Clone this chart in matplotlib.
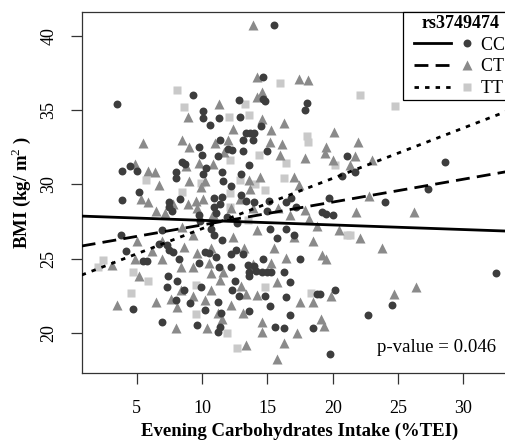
import matplotlib
matplotlib.use("Agg")
import matplotlib.pyplot as plt
from matplotlib.lines import Line2D
from matplotlib.legend_handler import HandlerBase

plt.rcParams['font.family'] = ['Liberation Serif', 'DejaVu Serif']
plt.rcParams['mathtext.fontset'] = 'custom'
plt.rcParams['mathtext.rm'] = 'Liberation Serif'
plt.rcParams['mathtext.bf'] = 'Liberation Serif:bold'

# ---------------- data ----------------
genotypes = ["CC", "CT", "TT"]

cc_x = [15.47, 3.52, 9.34, 14.63, 14.8, 14.7, 18.0, 17.9, 10.1, 10.1, 10.6, 11.3, 12.8, 12.9, 14.5,
        13.4, 13.7, 14.0, 13.1, 13.9, 11.4, 9.8, 10.0, 13.1, 12.3, 12.0, 15.0, 11.2, 8.5, 8.7, 13.6,
        21.1, 21.7, 20.7, 28.6, 10.3, 10.1, 11.5, 8.0, 8.0, 3.9, 4.5, 5.05, 13.0, 11.6, 12.2, 5.2, 3.9,
        8.3, 7.5, 7.5, 7.7, 10.9, 11.5, 11.4, 13.0, 13.4, 14.0, 15.1, 16.4, 16.8, 17.2, 19.7, 24.0,
        27.3, 20.0, 19.2, 19.5, 9.8, 9.85, 10.9, 11.1, 11.9, 12.7, 15.0, 3.8, 6.9, 10.7, 15.2, 15.7,
        16.4, 17.0, 11.5, 10.9, 6.7, 7.3, 7.5, 7.8, 4.2, 5.5, 5.8, 8.2, 9.8, 10.2, 10.5, 11.1, 11.3,
        12.2, 12.6, 13.1, 13.5, 14.0, 14.1, 14.7, 17.5, 12.2, 13.6, 13.6, 14.6, 15.0, 15.3, 16.3, 7.4,
        8.1, 12.5, 16.7, 7.3, 8.6, 9.9, 12.3, 12.8, 14.8, 20.2, 19.0, 18.8, 16.4, 8.0, 9.1, 11.2, 24.5,
        15.2, 10.2, 4.7, 11.45, 13.6, 16.7, 22.7, 6.9, 9.6, 11.2, 11.4, 15.6, 16.3, 18.5, 19.8, 32.5]
cc_y = [40.72, 35.4, 36.0, 37.24, 35.6, 35.75, 35.45, 35.0, 34.9, 34.45, 34.0, 34.45, 35.7, 34.55, 33.9,
        33.45, 33.45, 33.45, 33.0, 33.0, 33.0, 32.5, 32.0, 32.25, 32.3, 32.35, 32.25, 31.9, 31.5, 31.35, 31.3,
        31.9, 30.8, 30.55, 31.5, 31.1, 30.7, 30.85, 30.85, 30.4, 30.9, 31.25, 30.9, 30.7, 30.2, 29.85, 29.45, 28.95,
        29.0, 28.8, 28.5, 28.2, 29.1, 29.15, 28.7, 29.3, 28.9, 28.8, 28.9, 28.8, 29.05, 28.45, 29.05, 28.8,
        29.7, 27.9, 28.1, 28.0, 27.9, 27.55, 28.5, 28.05, 27.8, 27.4, 28.2, 26.6, 26.9, 27.0, 27.0, 26.4,
        27.0, 26.6, 26.25, 26.6, 26.0, 25.9, 25.6, 25.45, 25.5, 24.8, 24.8, 25.0, 24.7, 25.45, 25.4, 25.1, 24.45,
        25.3, 25.6, 25.3, 24.55, 24.5, 24.15, 25.0, 25.0, 24.4, 23.8, 24.1, 24.1, 24.1, 24.1, 24.1, 23.8,
        23.5, 23.5, 23.4, 23.05, 22.85, 23.1, 22.9, 22.45, 22.5, 22.9, 22.6, 22.6, 22.4, 22.2, 22.0, 22.1, 21.9,
        21.8, 21.5, 21.6, 21.3, 21.45, 21.2, 21.2, 20.7, 20.5, 20.05, 20.4, 20.4, 20.3, 20.3, 18.6, 24.0]

ct_x = [13.9, 14.2, 17.4, 18.1, 14.2, 14.6, 11.3, 8.9, 14.6, 16.3, 15.3, 12.4, 20.1, 5.5, 8.5, 9.0, 11.0,
        11.7, 12.0, 15.2, 16.1, 19.5, 21.9, 19.4, 16.0, 21.7, 17.9, 23.0, 20.0, 21.3, 4.9, 8.8, 9.8, 10.8,
        5.9, 6.4, 17.0, 14.4, 13.6, 10.2, 9.0, 9.9, 6.7, 17.4, 13.7, 12.9, 9.5, 10.1, 7.8, 5.9, 5.3, 8.9,
        6.5, 7.2, 9.6, 10.8, 12.2, 13.9, 15.8, 16.7, 17.9, 21.8, 26.2, 22.8, 18.2, 18.8, 20.5, 14.2, 8.5,
        9.3, 12.4, 17.0, 18.5, 22.1, 5.05, 6.9, 8.6, 10.7, 13.2, 15.5, 23.8, 6.2, 4.9, 6.9, 9.6, 19.2, 19.5,
        16.4, 15.3, 3.1, 8.4, 9.3, 10.5, 13.9, 11.6, 10.7, 5.2, 11.4, 15.7, 13.0, 8.4, 10.7, 26.4, 24.7,
        13.4, 14.2, 10.2, 8.1, 6.5, 3.5, 17.5, 18.5, 19.9, 12.2, 13.1, 11.5, 11.25, 19.1, 14.6, 8.0, 10.4,
        14.6, 17.3, 19.3, 13.4, 16.3, 15.7, 9.3, 7.6]
ct_y = [40.7, 37.2, 37.1, 37.0, 35.9, 36.2, 35.4, 34.5, 34.4, 34.15, 33.65, 33.75, 33.5, 32.75, 33.0, 32.5, 32.8,
        32.2, 33.0, 32.85, 32.7, 32.5, 32.85, 32.1, 31.95, 31.9, 31.8, 31.6, 31.6, 31.3, 31.35, 31.25, 31.45, 31.35,
        30.9, 30.85, 30.5, 30.5, 30.3, 30.2, 30.2, 29.8, 29.95, 29.95, 29.7, 29.0, 28.9, 29.0, 28.7, 28.8, 29.0, 28.7,
        28.2, 28.05, 28.4, 28.0, 28.4, 28.4, 28.4, 27.9, 28.3, 28.1, 28.15, 29.2, 27.65, 27.2, 26.9, 26.95, 27.1,
        26.6, 26.45, 26.45, 26.2, 26.35, 26.2, 26.2, 25.8, 25.7, 25.7, 25.7, 25.7, 25.5, 24.95, 25.0, 25.35, 25.25, 25.0,
        25.05, 24.7, 24.55, 24.45, 24.45, 24.7, 24.6, 24.1, 24.05, 23.8, 23.55, 23.4, 23.15, 22.85, 22.85, 23.05, 22.6,
        22.6, 22.55, 22.2, 21.75, 22.1, 21.9, 22.1, 22.1, 22.5, 21.85, 21.3, 20.9, 21.3, 20.9, 20.75, 20.3, 20.35,
        20.05, 20.0, 20.45, 19.2, 19.3, 18.2, 22.5, 22.3]

tt_x = [8.1, 16.0, 22.1, 24.8, 8.6, 13.25, 13.6, 12.05, 18.0, 18.1, 14.35, 12.15, 16.4, 20.2, 16.3, 12.9,
        5.7, 14.8, 8.45, 9.95, 12.15, 14.05, 12.1, 21.3, 21.1, 2.45, 2.0, 4.7, 5.9, 4.6, 9.5, 14.8, 18.3,
        9.5, 11.9, 12.7, 13.55]
tt_y = [36.35, 36.85, 36.0, 35.25, 35.2, 35.4, 34.65, 34.5, 33.25, 32.85, 31.95, 31.6, 31.4, 31.3, 30.4, 30.3,
        30.3, 29.6, 29.45, 30.1, 29.4, 30.05, 28.5, 26.55, 26.55, 24.9, 24.4, 24.1, 23.5, 22.7, 23.2, 23.1, 22.65,
        21.25, 20.0, 18.95, 27.6]

# fitted regression lines (intercept, slope) per genotype
line_intercepts = [27.88, 25.72, 23.62]
line_slopes = [-0.031, 0.154, 0.339]

p_value_text = "p-value = 0.046"
x_ticks = [5, 10, 15, 20, 25, 30]
y_ticks = [20, 25, 30, 35, 40]

# ---------------- styles ----------------
colors = ["#3d3d3d", "#8a8a8a", "#c9c9c9"]
markers = ["o", "^", "s"]
msizes = [5.7, 6.7, 5.1]
lstyles = ["-", (0, (5.0, 2.6)), (0, (1.6, 2.2))]

fig = plt.figure(figsize=(5.05, 4.41), dpi=100)
ax = fig.add_axes([81.7 / 505, 1 - 373 / 441, (517 - 81.7) / 505, (373 - 12) / 441])

series = [(cc_x, cc_y), (ct_x, ct_y), (tt_x, tt_y)]
for idx in [2, 1, 0]:
    xs, ys = series[idx]
    ax.plot(xs, ys, linestyle="none", marker=markers[idx], markersize=msizes[idx],
            markerfacecolor=colors[idx], markeredgecolor="none", zorder=2)

for i in range(3):
    ax.axline((0, line_intercepts[i]), slope=line_slopes[i], color="black",
              linewidth=2.0, linestyle=lstyles[i], zorder=3)

ax.set_xlim(0.79, 34.1)
ax.set_ylim(17.29, 41.6)
ax.set_xticks(x_ticks)
ax.set_yticks(y_ticks)
ax.tick_params(axis="both", direction="out", length=8, width=0.9, labelsize=13, color="#333333")
ax.tick_params(axis="x", pad=11.3)
ax.tick_params(axis="y", pad=9.5)
for lab in ax.get_yticklabels():
    lab.set_rotation(90)
    lab.set_va("center")
    lab.set_ha("right")
for sp in ax.spines.values():
    sp.set_linewidth(0.9)
    sp.set_color("#333333")

ax.set_xlabel("Evening Carbohydrates Intake (%TEI)", fontsize=13.5, fontweight="bold", labelpad=4)
ax.set_ylabel(r"BMI (kg/ m$^{2}$ )", fontsize=13.5, fontweight="bold", labelpad=5.5)

ax.text(0.952, 0.070, p_value_text, transform=ax.transAxes, ha="right", va="center", fontsize=13.6)


class LineMarkerHandler(HandlerBase):
    def create_artists(self, legend, orig_handle, xdescent, ydescent, width, height, fontsize, trans):
        ls, col, mk, ms = orig_handle
        y = height / 2.0 - ydescent
        l = Line2D([-xdescent + width * 0.127, -xdescent + width * 0.694], [y, y], color="black",
                   linewidth=2.0, linestyle=ls)
        m = Line2D([-xdescent + width * 0.939], [y], linestyle="none", marker=mk,
                   markersize=ms, markerfacecolor=col, markeredgecolor="none")
        l.set_transform(trans)
        m.set_transform(trans)
        return [l, m]


handles = [(lstyles[i], colors[i], markers[i], msizes[i]) for i in range(3)]
legend_labels = [g + "  " for g in genotypes]
leg = ax.legend(handles, legend_labels, handler_map={tuple: LineMarkerHandler()},
                loc="upper right", bbox_to_anchor=(1.0, 1), borderaxespad=0,
                title="rs3749474", title_fontproperties={"weight": "bold", "size": 13},
                fontsize=13, frameon=True, fancybox=False, edgecolor="black",
                framealpha=1, handlelength=3.62, handletextpad=0.55, borderpad=0.15,
                labelspacing=0.27)
leg.get_frame().set_linewidth(0.9)

fig.savefig("out.png", dpi=100)
